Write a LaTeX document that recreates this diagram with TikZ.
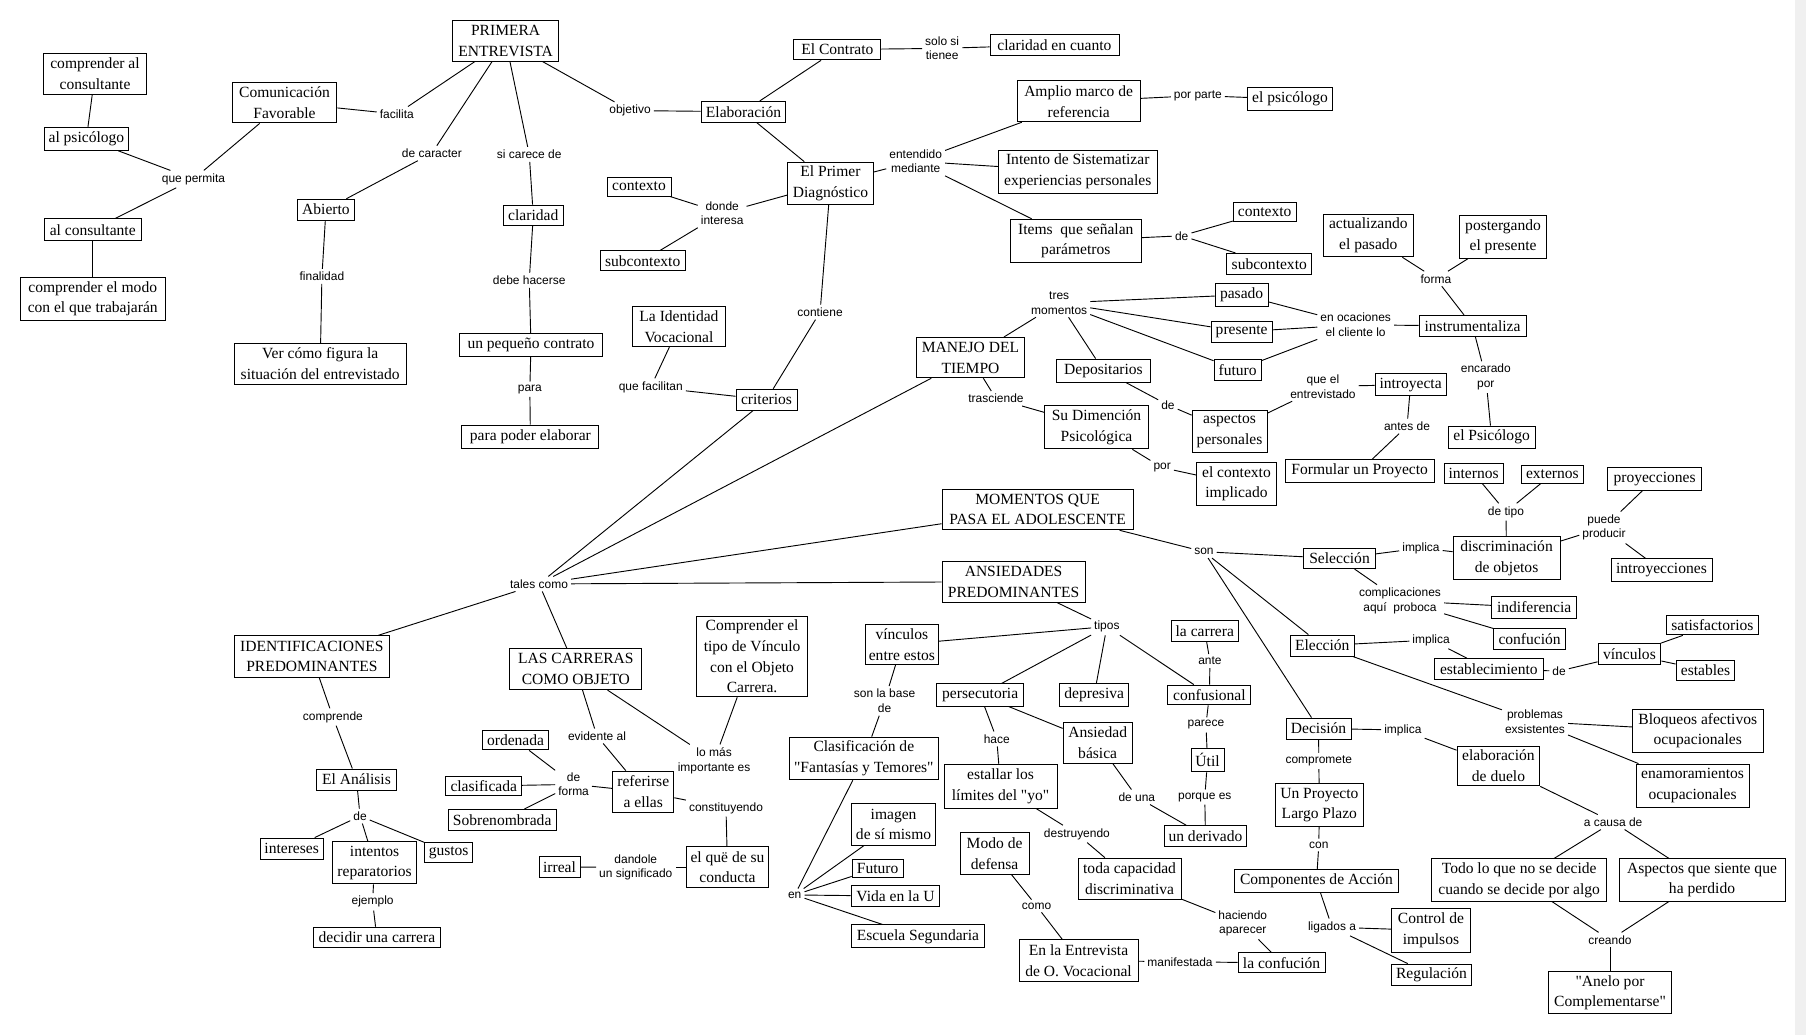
\documentclass[tikz,border=0pt]{standalone}
\usepackage{fontspec}
\setmainfont{Liberation Serif}
\newfontfamily\boxfont{Liberation Serif}
\newfontfamily\lblfont{Liberation Sans}
\tikzset{
 box/.style={draw, line width=0.8pt, align=center, inner sep=1pt, fill=white, font=\boxfont\fontsize{13.5}{18}\selectfont},
 bx/.style 2 args={box, minimum width=#1, minimum height=#2},
 lbl/.style={align=center, inner sep=2.5pt, font=\lblfont\fontsize{10.4}{12.7}\selectfont},
 ln/.style={line width=0.8pt}
}
\begin{document}
\begin{tikzpicture}[x=1pt,y=-1pt]
\fill[white] (0,0) rectangle (1568,899);
\fill[black!6] (1558.5,0) rectangle (1568,899);
\path[use as bounding box] (0,0) rectangle (1568,899);
% boxes
\node[bx={90}{36}] (cca) at (82.5,64) {comprender al\\consultante};
\node[bx={73.5}{20}] (alpsi) at (75,120.5) {al psicólogo};
\node[bx={84}{19}] (alcons) at (80.5,199.5) {al consultante};
\node[bx={126}{37}] (cmodo) at (80.5,259.5) {comprender el modo\\con el que trabajarán};
\node[bx={91}{35.5}] (comfav) at (247,89) {Comunicación\\Favorable};
\node[bx={50}{18}] (abierto) at (283,182) {Abierto};
\node[bx={149}{35.5}] (vercomo) at (278,316) {Ver cómo figura la\\situación del entrevistado};
\node[bx={92}{35}] (pe) at (439,35.5) {PRIMERA\\ENTREVISTA};
\node[bx={52}{18}] (claridad) at (463,187) {claridad};
\node[bx={124.5}{20}] (pcontrato) at (461,299.5) {un pequeño contrato};
\node[bx={119}{20}] (poder) at (460.5,379) {para poder elaborar};
\node[bx={73.5}{18}] (elab) at (645.5,97) {Elaboración};
\node[bx={75.5}{18}] (contrato) at (727,43) {El Contrato};
\node[bx={112}{18.5}] (clcuanto) at (915.5,39) {claridad en cuanto};
\node[bx={55.5}{16.5}] (ctxa) at (554.8,162) {contexto};
\node[bx={74}{17.5}] (subctxa) at (558,226.5) {subcontexto};
\node[bx={74}{36.5}] (epd) at (721,159) {El Primer\\Diagnóstico};
\node[bx={81}{35}] (lid) at (589.5,283.5) {La Identidad\\Vocacional};
\node[bx={107}{35.5}] (amplio) at (936.5,88) {Amplio marco de\\referencia};
\node[bx={73.5}{19.7}] (elpsia) at (1120,86) {el psicólogo};
\node[bx={138}{37.6}] (intento) at (935.7,149) {Intento de Sistematizar\\experiencias personales};
\node[bx={113.7}{37.3}] (items) at (934,209) {Items\ \ que señalan\\parámetros};
\node[bx={54.5}{16.3}] (ctxb) at (1098,184) {contexto};
\node[bx={73.5}{18}] (subctxb) at (1102,229) {subcontexto};
\node[bx={46}{19.3}] (pasado) at (1078,256) {pasado};
\node[bx={53}{18.3}] (presente) at (1078,288) {presente};
\node[bx={41}{18.3}] (futuro) at (1074.5,321) {futuro};
\node[bx={93}{35}] (manejo) at (842.6,310.5) {MANEJO DEL\\TIEMPO};
\node[bx={77.5}{37}] (actual) at (1188,204.5) {actualizando\\el pasado};
\node[bx={75.5}{37}] (poster) at (1305,205.5) {postergando\\el presente};
\node[bx={93}{18.4}] (instr) at (1278.5,283) {instrumentaliza};
\node[bx={81}{20}] (depos) at (958,321.7) {Depositarios};
\node[bx={89.7}{37.5}] (sudim) at (952,371) {Su Dimención\\Psicológica};
\node[bx={65}{37}] (aspect) at (1067.5,374.5) {aspectos\\personales};
\node[bx={69}{37.5}] (ctximpl) at (1073.5,420) {el contexto\\implicado};
\node[bx={129.3}{19.6}] (formular) at (1180.5,409) {Formular un Proyecto};
\node[bx={61.5}{19}] (introy) at (1224.7,334) {introyecta};
\node[bx={75.7}{19}] (elpsib) at (1295,379.5) {el Psicólogo};
\node[bx={165.7}{35.4}] (momentos) at (900.8,442.3) {MOMENTOS QUE\\PASA EL ADOLESCENTE};
\node[bx={62}{17.4}] (selec) at (1163,485) {Selección};
\node[bx={124}{35.7}] (ansied) at (880,505) {ANSIEDADES\\PREDOMINANTES};
\node[bx={58.3}{17.5}] (lacarrera) at (1046,547.8) {la carrera};
\node[bx={55.5}{18.3}] (elecc) at (1148,560.5) {Elección};
\node[bx={64}{35.2}] (vincentre) at (783,559.5) {vínculos\\entre estos};
\node[bx={51.3}{17.5}] (internos) at (1279.4,410.8) {internos};
\node[bx={54.5}{15.8}] (externos) at (1347.8,411.6) {externos};
\node[bx={81}{19.5}] (proyecc) at (1436.5,416) {proyecciones};
\node[bx={93}{36.7}] (discrim) at (1308,484.4) {discriminación\\de objetos};
\node[bx={87.7}{19.6}] (introyecc) at (1442.5,495) {introyecciones};
\node[bx={73.6}{18.6}] (indif) at (1332,527.5) {indiferencia};
\node[bx={62}{18.5}] (confucion) at (1328,555) {confución};
\node[bx={95}{18.5}] (establ) at (1292.6,581) {establecimiento};
\node[bx={54.6}{18.4}] (vinculos) at (1414.7,568) {vínculos};
\node[bx={80.6}{17.3}] (satisf) at (1486.7,542.6) {satisfactorios};
\node[bx={51}{18}] (estables) at (1480.7,582) {estables};
\node[bx={113.7}{37.4}] (bloqueos) at (1474,634.3) {Bloqueos afectivos\\ocupacionales};
\node[bx={98}{37.3}] (enamor) at (1469.5,682) {enamoramientos\\ocupacionales};
\node[bx={72}{34.7}] (duelo) at (1301,665) {elaboración\\de duelo};
\node[bx={152}{36.5}] (todo) at (1319,764) {Todo lo que no se decide\\cuando se decide por algo};
\node[bx={144.2}{36.5}] (aspperd) at (1477.7,764) {Aspectos que siente que\\ha perdido};
\node[bx={106}{36.4}] (anelo) at (1397.8,862) {"Anelo por\\Complementarse"};
\node[bx={67.8}{37.5}] (control) at (1242.4,807.8) {Control de\\impulsos};
\node[bx={70.3}{19}] (regul) at (1242.8,846.5) {Regulación};
\node[bx={75.5}{19.2}] (persec) at (851,603.4) {persecutoria};
\node[bx={60}{19.2}] (depres) at (950,603.4) {depresiva};
\node[bx={72}{17.3}] (confus) at (1050,603.4) {confusional};
\node[bx={56.5}{18.2}] (decision) at (1144.8,632.5) {Decisión};
\node[bx={60}{35.5}] (ansbas) at (953,644.7) {Ansiedad\\básica};
\node[bx={28.7}{20.3}] (util) at (1048.4,660) {Útil};
\node[bx={98}{37.5}] (estallar) at (868.7,682.8) {estallar los\\límites del "yo"};
\node[bx={77}{37.3}] (proyecto) at (1145.5,699) {Un Proyecto\\Largo Plazo};
\node[bx={72}{18.4}] (derivado) at (1046.6,726) {un derivado};
\node[bx={60}{36}] (modo) at (863.5,741) {Modo de\\defensa};
\node[bx={89.4}{35.5}] (toda) at (980.7,762.8) {toda capacidad\\discriminativa};
\node[bx={143}{19.5}] (compon) at (1143,764.8) {Componentes de Acción};
\node[bx={103.3}{35.7}] (entrev) at (936.4,833.9) {En la Entrevista\\de O. Vocacional};
\node[bx={75.4}{17.4}] (laconf) at (1112.7,836) {la confución};
\node[bx={114.6}{35.5}] (carreras) at (500,581) {LAS CARRERAS\\COMO OBJETO};
\node[bx={96.5}{70}] (comprend) at (653,570) {Comprender el\\tipo de Vínculo\\con el Objeto\\Carrera.};
\node[bx={58}{17.2}] (ordenada) at (447.6,642.5) {ordenada};
\node[bx={53}{35.6}] (referirse) at (558.5,687.3) {referirse\\a ellas};
\node[bx={66}{17.3}] (clasificada) at (420,682.4) {clasificada};
\node[bx={94}{18.5}] (sobren) at (436,712) {Sobrenombrada};
\node[bx={35.6}{17.4}] (irreal) at (485.8,752.7) {irreal};
\node[bx={72}{35.6}] (elque) at (631.6,753) {el quë de su\\conducta};
\node[bx={130}{37}] (clasif) at (750,658.5) {Clasificación de\\"Fantasías y Temores"};
\node[bx={73.6}{35.6}] (imagen) at (775.8,715.8) {imagen\\de sí mismo};
\node[bx={44.3}{15.6}] (futurob) at (762,753.6) {Futuro};
\node[bx={77}{18}] (vida) at (777.5,778) {Vida en la U};
\node[bx={116}{20}] (escuela) at (797,813) {Escuela Segundaria};
\node[bx={134.5}{36}] (identif) at (270.8,570) {IDENTIFICACIONES\\PREDOMINANTES};
\node[bx={69}{18.3}] (analisis) at (309.5,676.8) {El Análisis};
\node[bx={54.5}{18.2}] (intereses) at (253.2,736.7) {intereses};
\node[bx={73.5}{36.5}] (intentos) at (325.2,749.2) {intentos\\reparatorios};
\node[bx={42}{18}] (gustos) at (389.5,740) {gustos};
\node[bx={110.4}{18}] (decidir) at (327.2,814) {decidir una carrera};
\node[bx={53}{18.2}] (criterios) at (665.5,347) {criterios};
% labels
\node[lbl] (permita) at (168,155.5) {que permita};
\node[lbl] (facilita) at (344.5,99) {facilita};
\node[lbl] (decar) at (375,133) {de caracter};
\node[lbl] (finalidad) at (279.5,240) {finalidad};
\node[lbl] (sicarece) at (459.5,134) {si carece de};
\node[lbl] (debe) at (459.5,243.5) {debe hacerse};
\node[lbl] (para) at (460,338) {para};
\node[lbl] (objetivo) at (547,96) {objetivo};
\node[lbl] (solosi) at (818,42) {solo si\\tienee};
\node[lbl] (donde) at (627,185) {donde\\interesa};
\node[lbl] (entendido) at (795,140) {entendido\\mediante};
\node[lbl] (porparte) at (1040,83) {por parte};
\node[lbl] (dea) at (1026,204.7) {de};
\node[lbl] (contiene) at (712,271) {contiene};
\node[lbl] (facilitan) at (565,336) {que facilitan};
\node[lbl] (tales) at (468,507) {tales como};
\node[lbl] (tres) at (919.6,263) {tres\\momentos};
\node[lbl] (ocaciones) at (1177,282) {en ocaciones\\el cliente lo};
\node[lbl] (forma) at (1246.7,242) {forma};
\node[lbl] (encarado) at (1290,327.5) {encarado\\por};
\node[lbl] (trasciende) at (864.7,346) {trasciende};
\node[lbl] (deb) at (1014,351.6) {de};
\node[lbl] (queel) at (1148.6,335.5) {que el\\entrevistado};
\node[lbl] (antes) at (1221.6,370) {antes de};
\node[lbl] (por) at (1009,406) {por};
\node[lbl] (son) at (1045.3,479) {son};
\node[lbl] (detipo) at (1307.5,444.5) {de tipo};
\node[lbl] (puede) at (1392.6,458) {puede\\producir};
\node[lbl] (implicaa) at (1233.7,475.8) {implica};
\node[lbl] (complic) at (1215.5,521.5) {complicaciones\\aquí\ \ proboca};
\node[lbl] (implicab) at (1242.5,555.7) {implica};
\node[lbl] (dec) at (1353.6,582.6) {de};
\node[lbl] (problemas) at (1332.7,626.5) {problemas\\exsistentes};
\node[lbl] (implicac) at (1218,633.8) {implica};
\node[lbl] (causa) at (1400.5,713.7) {a causa de};
\node[lbl] (creando) at (1397.8,816) {creando};
\node[lbl] (ligados) at (1156.5,805) {ligados a};
\node[lbl] (tipos) at (961,544) {tipos};
\node[lbl] (ante) at (1050.5,574) {ante};
\node[lbl] (hace) at (865.4,641.6) {hace};
\node[lbl] (parece) at (1047,629.4) {parece};
\node[lbl] (compromete) at (1145,660.7) {compromete};
\node[lbl] (deuna) at (987,692) {de una};
\node[lbl] (porque) at (1046,692) {porque es};
\node[lbl] (destruy) at (935,724) {destruyendo};
\node[lbl] (con) at (1145,733.6) {con};
\node[lbl] (como) at (900,786.6) {como};
\node[lbl] (haciendo) at (1079,801.7) {haciendo\\aparecer};
\node[lbl] (manif) at (1024.5,835) {manifestada};
\node[lbl] (evidente) at (518.3,639) {evidente al};
\node[lbl] (lomas) at (620,660.3) {lo más\\importante es};
\node[lbl] (deforma) at (498,681) {de\\forma};
\node[lbl] (constit) at (630.3,701.5) {constituyendo};
\node[lbl] (dandole) at (552,753) {dandole\\un significado};
\node[lbl] (sonbase) at (768,608.5) {son la base\\de};
\node[lbl] (en) at (690,777) {en};
\node[lbl] (comprende) at (289,622.5) {comprende};
\node[lbl] (ded) at (312.6,708.5) {de};
\node[lbl] (ejemplo) at (323.5,783) {ejemplo};
% connectors
\foreach \a/\b in {pe/facilita, facilita/comfav, comfav/permita, permita/alpsi, permita/alcons, cca/alpsi, alcons/cmodo,
 pe/decar, decar/abierto, abierto/finalidad, finalidad/vercomo, pe/sicarece, sicarece/claridad, claridad/debe,
 debe/pcontrato, pcontrato/para, para/poder, pe/objetivo, objetivo/elab, elab/contrato, contrato/solosi, solosi/clcuanto,
 elab/epd, epd/donde, donde/ctxa, donde/subctxa, epd/entendido, entendido/amplio, entendido/intento, entendido/items,
 amplio/porparte, porparte/elpsia, items/dea, dea/ctxb, dea/subctxb, epd/contiene, contiene/criterios, lid/facilitan,
 facilitan/criterios, criterios/tales, tales/manejo, tales/momentos, tales/ansied, tales/identif, tales/carreras,
 manejo/tres, tres/pasado, tres/presente, tres/futuro, tres/depos, pasado/ocaciones, presente/ocaciones, futuro/ocaciones,
 ocaciones/instr, instr/forma, forma/actual, forma/poster, instr/encarado, encarado/elpsib, manejo/trasciende,
 trasciende/sudim, depos/deb, deb/aspect, aspect/queel, queel/introy, introy/antes, antes/formular, sudim/por, por/ctximpl,
 momentos/son, son/selec, son/elecc, son/decision, selec/implicaa, implicaa/discrim, discrim/detipo, detipo/internos,
 detipo/externos, discrim/puede, puede/proyecc, puede/introyecc, selec/complic, complic/indif, complic/confucion,
 elecc/implicab, implicab/establ, establ/dec, dec/vinculos, vinculos/satisf, vinculos/estables, elecc/problemas,
 problemas/bloqueos, problemas/enamor, decision/implicac, implicac/duelo, duelo/causa, causa/todo, causa/aspperd,
 todo/creando, aspperd/creando, creando/anelo, decision/compromete, compromete/proyecto, proyecto/con, con/compon,
 compon/ligados, ligados/control, ligados/regul, ansied/tipos, tipos/vincentre, tipos/persec, tipos/depres, tipos/confus,
 lacarrera/ante, ante/confus, confus/parece, parece/util, util/porque, porque/derivado, ansbas/deuna, deuna/derivado,
 persec/ansbas, persec/hace, hace/estallar, estallar/destruy, destruy/toda, toda/haciendo, haciendo/laconf, modo/como,
 como/entrev, entrev/manif, manif/laconf, vincentre/sonbase, sonbase/clasif, clasif/en, en/imagen, en/futurob, en/vida,
 en/escuela, carreras/evidente, evidente/referirse, carreras/lomas, comprend/lomas, referirse/deforma, deforma/ordenada,
 deforma/clasificada, deforma/sobren, referirse/constit, constit/elque, elque/dandole, dandole/irreal, identif/comprende,
 comprende/analisis, analisis/ded, ded/intereses, ded/intentos, ded/gustos, intentos/ejemplo, ejemplo/decidir}
 \draw[ln] (\a) -- (\b);
\end{tikzpicture}
\end{document}
